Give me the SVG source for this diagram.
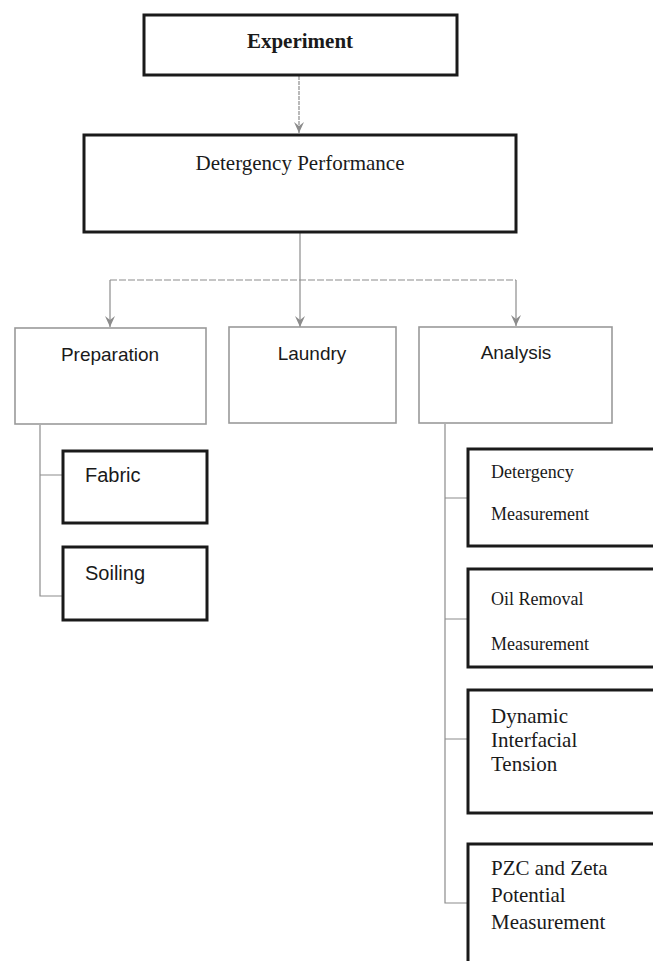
<svg xmlns="http://www.w3.org/2000/svg" width="653" height="961" viewBox="0 0 653 961">
<style>
.bg{fill:#ffffff}
.bold{fill:#fff;stroke:#1a1a1a;stroke-width:3}
.thin{fill:#fff;stroke:#9a9a9a;stroke-width:1.6}
.conn{fill:none;stroke:#8c8c8c;stroke-width:1.2}
.dash{stroke-dasharray:7 2}
.serif{font-family:"Liberation Serif","Times New Roman",serif;fill:#1a1a1a}
.sans{font-family:"Liberation Sans",Arial,sans-serif;fill:#1a1a1a}
</style>
<defs>
<marker id="arr" markerWidth="14" markerHeight="12" refX="13" refY="6" orient="auto" markerUnits="userSpaceOnUse" viewBox="0 0 14 12">
<path d="M2,1 L13,6 L2,11 L6,6 Z" fill="#8c8c8c"/>
</marker>
</defs>
<rect class="bg" x="0" y="0" width="653" height="961"/>
<g id="connectors">
<line class="conn" x1="299" y1="76" x2="299" y2="133" marker-end="url(#arr)" stroke-dasharray="4 1"/>
<line class="conn" x1="300" y1="233" x2="300" y2="280"/>
<line class="conn dash" x1="110" y1="280" x2="516" y2="280"/>
<line class="conn" x1="110" y1="280" x2="110" y2="327" marker-end="url(#arr)"/>
<line class="conn" x1="300" y1="280" x2="300" y2="327" marker-end="url(#arr)"/>
<line class="conn" x1="516" y1="280" x2="516" y2="326" marker-end="url(#arr)"/>
<path class="conn" d="M40,425 V596 H62 M40,475 H62"/>
<path class="conn" d="M445,424 V903 H468 M445,498 H468 M445,619 H468 M445,739 H468"/>
</g>
<g id="experiment">
<rect class="bold" x="144" y="15" width="313" height="60"/>
<text class="serif" x="300" y="48" font-size="21" font-weight="bold" text-anchor="middle">Experiment</text>
</g>
<g id="detergency-performance">
<rect class="bold" x="84" y="135" width="432" height="97"/>
<text class="serif" x="300" y="170" font-size="21" text-anchor="middle">Detergency Performance</text>
</g>
<g id="preparation">
<rect class="thin" x="15" y="328" width="191" height="96"/>
<text class="sans" x="110" y="361" font-size="19" text-anchor="middle">Preparation</text>
</g>
<g id="laundry">
<rect class="thin" x="229" y="327" width="167" height="96"/>
<text class="sans" x="312" y="360" font-size="19" text-anchor="middle">Laundry</text>
</g>
<g id="analysis">
<rect class="thin" x="419" y="327" width="193" height="96"/>
<text class="sans" x="516" y="359" font-size="19" text-anchor="middle">Analysis</text>
</g>
<g id="fabric">
<rect class="bold" x="63" y="451" width="144" height="72"/>
<text class="sans" x="85" y="482" font-size="20">Fabric</text>
</g>
<g id="soiling">
<rect class="bold" x="63" y="547" width="144" height="73"/>
<text class="sans" x="85" y="580" font-size="20">Soiling</text>
</g>
<g id="detergency-measurement">
<rect class="bold" x="468" y="449" width="190" height="97"/>
<text class="serif" x="491" y="478" font-size="18">Detergency</text>
<text class="serif" x="491" y="520" font-size="18">Measurement</text>
</g>
<g id="oil-removal">
<rect class="bold" x="468" y="569" width="190" height="98"/>
<text class="serif" x="491" y="605" font-size="18">Oil Removal</text>
<text class="serif" x="491" y="650" font-size="18">Measurement</text>
</g>
<g id="dynamic-ift">
<rect class="bold" x="468" y="690" width="190" height="123"/>
<text class="serif" x="491" y="723" font-size="21">Dynamic</text>
<text class="serif" x="491" y="747" font-size="21">Interfacial</text>
<text class="serif" x="491" y="771" font-size="21">Tension</text>
</g>
<g id="pzc-zeta">
<rect class="bold" x="468" y="844" width="190" height="130"/>
<text class="serif" x="491" y="875" font-size="21">PZC and Zeta</text>
<text class="serif" x="491" y="902" font-size="21">Potential</text>
<text class="serif" x="491" y="929" font-size="21">Measurement</text>
</g>
</svg>
